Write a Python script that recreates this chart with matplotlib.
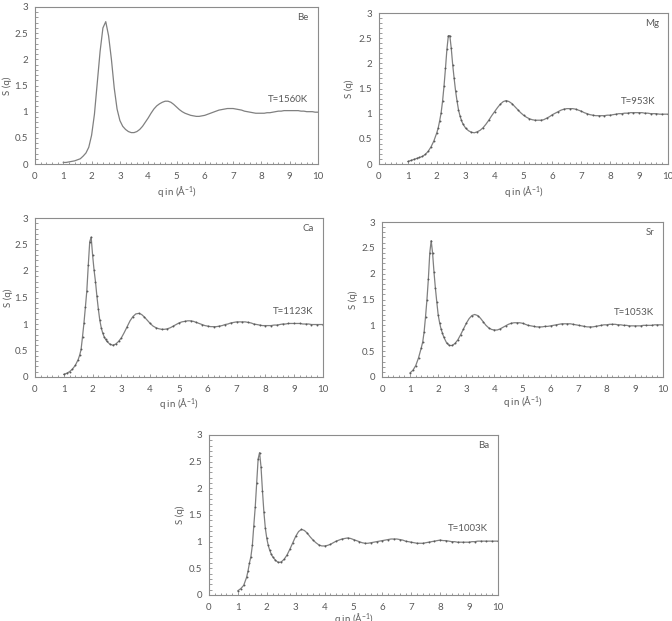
import matplotlib
matplotlib.use('Agg')
import matplotlib.pyplot as plt
from matplotlib.ticker import MultipleLocator

plt.rcParams['font.family'] = ['Lato', 'DejaVu Sans']
plt.rcParams['mathtext.default'] = 'regular'

# S(q), q in 1/Angstrom
q_be = [1.0, 1.1, 1.2, 1.3, 1.4, 1.5, 1.6, 1.7, 1.8, 1.9, 2.0, 2.1, 2.2, 2.3, 2.4, 2.5, 2.6, 2.7, 2.8, 2.9,
        3.0, 3.1, 3.2, 3.3, 3.4, 3.5, 3.6, 3.7, 3.8, 3.9, 4.0, 4.1, 4.2, 4.3, 4.4, 4.5, 4.6, 4.7, 4.8, 4.9,
        5.0, 5.1, 5.2, 5.3, 5.4, 5.5, 5.6, 5.7, 5.8, 5.9, 6.0, 6.1, 6.2, 6.3, 6.4, 6.5, 6.6, 6.7, 6.8, 6.9,
        7.0, 7.1, 7.2, 7.3, 7.4, 7.5, 7.6, 7.7, 7.8, 7.9, 8.0, 8.1, 8.2, 8.3, 8.4, 8.5, 8.6, 8.7, 8.8, 8.9,
        9.0, 9.1, 9.2, 9.3, 9.4, 9.5, 9.6, 9.7, 9.8, 9.9, 10.0]
s_be = [0.03, 0.03, 0.04, 0.05, 0.06, 0.08, 0.10, 0.15, 0.21, 0.32, 0.55, 0.95, 1.55, 2.15, 2.60, 2.72, 2.45, 2.00, 1.45, 1.05,
        0.83, 0.72, 0.66, 0.62, 0.60, 0.60, 0.62, 0.66, 0.72, 0.80, 0.88, 0.97, 1.05, 1.11, 1.15, 1.18, 1.20, 1.20, 1.18, 1.14,
        1.09, 1.04, 1.00, 0.97, 0.95, 0.93, 0.92, 0.91, 0.91, 0.92, 0.93, 0.95, 0.97, 0.99, 1.01, 1.03, 1.04, 1.05, 1.06, 1.06,
        1.06, 1.05, 1.04, 1.03, 1.01, 1.00, 0.99, 0.98, 0.97, 0.97, 0.97, 0.97, 0.98, 0.98, 0.99, 1.00, 1.01, 1.01, 1.02, 1.02,
        1.02, 1.02, 1.02, 1.02, 1.01, 1.01, 1.00, 1.00, 1.00, 0.99, 0.99]

q_mg = [1.0, 1.1, 1.2, 1.3, 1.4, 1.5, 1.6, 1.7, 1.8, 1.9,
        2.0, 2.05, 2.1, 2.15, 2.2, 2.25, 2.3, 2.35, 2.4, 2.45, 2.5, 2.55, 2.6, 2.65, 2.7, 2.75, 2.8, 2.85, 2.9,
        3.0, 3.1, 3.2, 3.3, 3.4, 3.5, 3.6, 3.7, 3.8, 3.9, 4.0, 4.1, 4.2, 4.3, 4.4, 4.5, 4.6, 4.7, 4.8, 4.9,
        5.0, 5.1, 5.2, 5.3, 5.4, 5.5, 5.6, 5.7, 5.8, 5.9, 6.0, 6.1, 6.2, 6.3, 6.4, 6.5, 6.6, 6.7, 6.8, 6.9,
        7.0, 7.1, 7.2, 7.3, 7.4, 7.5, 7.6, 7.7, 7.8, 7.9, 8.0, 8.1, 8.2, 8.3, 8.4, 8.5, 8.6, 8.7, 8.8, 8.9,
        9.0, 9.1, 9.2, 9.3, 9.4, 9.5, 9.6, 9.7, 9.8, 9.9, 10.0]
s_mg = [0.05, 0.07, 0.09, 0.11, 0.13, 0.15, 0.19, 0.25, 0.34, 0.46,
        0.62, 0.72, 0.86, 1.02, 1.25, 1.55, 1.90, 2.28, 2.55, 2.55, 2.30, 1.97, 1.70, 1.45, 1.25, 1.08, 0.96, 0.87, 0.80,
        0.71, 0.66, 0.63, 0.62, 0.64, 0.67, 0.72, 0.79, 0.87, 0.96, 1.04, 1.12, 1.19, 1.24, 1.26, 1.24, 1.20, 1.14, 1.08, 1.02,
        0.97, 0.93, 0.90, 0.88, 0.87, 0.87, 0.87, 0.88, 0.91, 0.94, 0.98, 1.01, 1.04, 1.07, 1.09, 1.10, 1.10, 1.10, 1.09, 1.07,
        1.05, 1.02, 1.00, 0.98, 0.97, 0.96, 0.96, 0.96, 0.96, 0.97, 0.97, 0.98, 0.99, 1.00, 1.00, 1.01, 1.01, 1.02, 1.02, 1.02,
        1.02, 1.02, 1.01, 1.01, 1.00, 1.00, 1.00, 0.99, 0.99, 0.99, 0.99]

q_ca = [1.0, 1.1, 1.2, 1.3, 1.4,
        1.5, 1.55, 1.6, 1.65, 1.7, 1.75, 1.8, 1.85, 1.9, 1.95, 2.0, 2.05, 2.1, 2.15, 2.2, 2.25, 2.3, 2.35, 2.4, 2.45, 2.5,
        2.6, 2.7, 2.8, 2.9, 3.0, 3.1, 3.2, 3.3, 3.4, 3.5, 3.6, 3.7, 3.8, 3.9, 4.0, 4.1, 4.2, 4.3, 4.4, 4.5, 4.6, 4.7, 4.8, 4.9,
        5.0, 5.1, 5.2, 5.3, 5.4, 5.5, 5.6, 5.7, 5.8, 5.9, 6.0, 6.1, 6.2, 6.3, 6.4, 6.5, 6.6, 6.7, 6.8, 6.9,
        7.0, 7.1, 7.2, 7.3, 7.4, 7.5, 7.6, 7.7, 7.8, 7.9, 8.0, 8.1, 8.2, 8.3, 8.4, 8.5, 8.6, 8.7, 8.8, 8.9,
        9.0, 9.1, 9.2, 9.3, 9.4, 9.5, 9.6, 9.7, 9.8, 9.9, 10.0]
s_ca = [0.05, 0.07, 0.10, 0.15, 0.22,
        0.33, 0.41, 0.52, 0.76, 1.02, 1.32, 1.63, 2.11, 2.55, 2.64, 2.30, 2.02, 1.80, 1.52, 1.28, 1.07, 0.93, 0.83, 0.76, 0.71, 0.67,
        0.62, 0.60, 0.62, 0.67, 0.74, 0.84, 0.95, 1.06, 1.14, 1.19, 1.20, 1.18, 1.13, 1.07, 1.01, 0.96, 0.93, 0.91, 0.90, 0.90, 0.91, 0.93, 0.96, 0.99,
        1.02, 1.04, 1.05, 1.06, 1.06, 1.05, 1.03, 1.01, 0.99, 0.97, 0.96, 0.95, 0.95, 0.95, 0.96, 0.97, 0.99, 1.00, 1.02, 1.03,
        1.04, 1.04, 1.04, 1.04, 1.03, 1.02, 1.00, 0.99, 0.98, 0.97, 0.97, 0.97, 0.97, 0.98, 0.98, 0.99, 1.00, 1.00, 1.01, 1.01,
        1.01, 1.01, 1.01, 1.00, 1.00, 1.00, 0.99, 0.99, 0.99, 0.99, 0.99]

q_sr = [1.0, 1.1, 1.2, 1.3, 1.4,
        1.45, 1.5, 1.55, 1.6, 1.65, 1.7, 1.75, 1.8, 1.85, 1.9, 1.95, 2.0, 2.05, 2.1, 2.15, 2.2,
        2.3, 2.4, 2.5, 2.6, 2.7, 2.8, 2.9, 3.0, 3.1, 3.2, 3.3, 3.4, 3.5, 3.6, 3.7, 3.8, 3.9, 4.0, 4.1, 4.2, 4.3, 4.4, 4.5, 4.6, 4.7, 4.8, 4.9,
        5.0, 5.1, 5.2, 5.3, 5.4, 5.5, 5.6, 5.7, 5.8, 5.9, 6.0, 6.1, 6.2, 6.3, 6.4, 6.5, 6.6, 6.7, 6.8, 6.9,
        7.0, 7.1, 7.2, 7.3, 7.4, 7.5, 7.6, 7.7, 7.8, 7.9, 8.0, 8.1, 8.2, 8.3, 8.4, 8.5, 8.6, 8.7, 8.8, 8.9,
        9.0, 9.1, 9.2, 9.3, 9.4, 9.5, 9.6, 9.7, 9.8, 9.9, 10.0]
s_sr = [0.08, 0.13, 0.22, 0.37, 0.57,
        0.68, 0.88, 1.17, 1.50, 1.90, 2.40, 2.64, 2.40, 2.03, 1.72, 1.45, 1.20, 1.05, 0.93, 0.85, 0.77,
        0.66, 0.61, 0.61, 0.65, 0.72, 0.82, 0.93, 1.04, 1.13, 1.19, 1.21, 1.19, 1.14, 1.07, 1.00, 0.95, 0.92, 0.91, 0.91, 0.93, 0.96, 0.99, 1.02, 1.04, 1.05, 1.05, 1.05,
        1.04, 1.02, 1.00, 0.99, 0.98, 0.97, 0.97, 0.97, 0.98, 0.98, 0.99, 1.00, 1.01, 1.02, 1.03, 1.03, 1.03, 1.03, 1.02, 1.01,
        1.00, 0.99, 0.98, 0.97, 0.97, 0.97, 0.98, 0.99, 1.00, 1.01, 1.01, 1.02, 1.02, 1.02, 1.01, 1.01, 1.00, 1.00, 0.99, 0.99,
        0.99, 0.99, 0.99, 1.00, 1.00, 1.00, 1.00, 1.01, 1.01, 1.01, 1.01]

q_ba = [1.0, 1.1, 1.2, 1.3,
        1.35, 1.4, 1.45, 1.5, 1.55, 1.6, 1.65, 1.7, 1.75, 1.8, 1.85, 1.9, 1.95, 2.0, 2.05, 2.1, 2.15, 2.2,
        2.3, 2.4, 2.5, 2.6, 2.7, 2.8, 2.9, 3.0, 3.1, 3.2, 3.3, 3.4, 3.5, 3.6, 3.7, 3.8, 3.9, 4.0, 4.1, 4.2, 4.3, 4.4, 4.5, 4.6, 4.7, 4.8, 4.9,
        5.0, 5.1, 5.2, 5.3, 5.4, 5.5, 5.6, 5.7, 5.8, 5.9, 6.0, 6.1, 6.2, 6.3, 6.4, 6.5, 6.6, 6.7, 6.8, 6.9,
        7.0, 7.1, 7.2, 7.3, 7.4, 7.5, 7.6, 7.7, 7.8, 7.9, 8.0, 8.1, 8.2, 8.3, 8.4, 8.5, 8.6, 8.7, 8.8, 8.9,
        9.0, 9.1, 9.2, 9.3, 9.4, 9.5, 9.6, 9.7, 9.8, 9.9, 10.0]
s_ba = [0.08, 0.12, 0.18, 0.33,
        0.45, 0.60, 0.72, 0.93, 1.30, 1.65, 2.10, 2.55, 2.67, 2.40, 1.95, 1.55, 1.25, 1.06, 0.93, 0.84, 0.77, 0.72,
        0.65, 0.61, 0.62, 0.67, 0.75, 0.86, 0.98, 1.10, 1.19, 1.23, 1.21, 1.16, 1.09, 1.03, 0.98, 0.94, 0.92, 0.92, 0.93, 0.95, 0.98, 1.01, 1.03, 1.05, 1.06, 1.07, 1.06,
        1.04, 1.02, 1.00, 0.98, 0.97, 0.97, 0.98, 0.99, 1.00, 1.01, 1.02, 1.03, 1.04, 1.05, 1.05, 1.05, 1.04, 1.03, 1.01, 1.00,
        0.99, 0.98, 0.97, 0.97, 0.97, 0.98, 0.99, 1.00, 1.01, 1.02, 1.03, 1.02, 1.02, 1.01, 1.00, 1.00, 0.99, 0.99, 0.99, 0.99,
        0.99, 1.00, 1.00, 1.01, 1.01, 1.01, 1.01, 1.01, 1.01, 1.01, 1.01]

panels = [
    # element, temperature, q, S, markers?, axes box in px (left, top, right, bottom),
    # ylabel / xlabel offsets in px, right end of the temperature text in q
    ('Be', 'T=1560K', q_be, s_be, False, (35, 7, 318, 164), 24, 28, 9.65),
    ('Mg', 'T=953K', q_mg, s_mg, True, (379, 13, 668, 164), 26, 28, 9.55),
    ('Ca', 'T=1123K', q_ca, s_ca, True, (35, 218, 323, 377), 23, 27, 9.65),
    ('Sr', 'T=1053K', q_sr, s_sr, True, (382, 222, 663, 377), 25, 25, 9.68),
    ('Ba', 'T=1003K', q_ba, s_ba, True, (209, 435, 498, 595), 25, 24, 9.65),
]

W, H = 672, 621
fig = plt.figure(figsize=(W / 100, H / 100), dpi=100)

frame_col = '#8c8c8c'
text_col = '#595959'
fs = 7

for elem, temp, q, s, dots, (l, t, r, b), yoff, xoff, tx in panels:
    w, h = r - l, b - t
    ax = fig.add_axes([l / W, 1 - b / H, w / W, h / H])
    ax.plot(q, s, color='#808080', lw=0.9)
    if dots:
        # fine grid near the main peak, every other point further out
        idx = [i for i, v in enumerate(q) if v < 3 or round(v * 10) % 2 == 0]
        ax.plot([q[i] for i in idx], [s[i] for i in idx], ls='none', marker='o',
                ms=1.4, color='#5a5a5a', mew=0)

    ax.set_xlim(0, 10)
    ax.set_ylim(0, 3)
    ax.xaxis.set_major_locator(MultipleLocator(1))
    ax.xaxis.set_minor_locator(MultipleLocator(0.2))
    ax.yaxis.set_minor_locator(MultipleLocator(0.1))
    ax.set_yticks([0, 0.5, 1, 1.5, 2, 2.5, 3])
    ax.set_yticklabels(['0', '0.5', '1', '1.5', '2', '2.5', '3'])

    ax.tick_params(which='both', direction='in', color=frame_col, width=0.6,
                   labelsize=fs, labelcolor=text_col)
    ax.tick_params(which='major', length=2.5)
    ax.tick_params(which='minor', length=1.8)
    ax.tick_params(axis='x', pad=6)
    ax.tick_params(axis='y', pad=5)
    for sp in ax.spines.values():
        sp.set_color(frame_col)
        sp.set_linewidth(0.8)

    ax.set_xlabel('q in (Å$^{-1}$)', fontsize=fs, color=text_col, va='center')
    ax.xaxis.set_label_coords(0.5, -xoff / h)
    ax.set_ylabel('S (q)', fontsize=fs, color=text_col, va='center')
    ax.yaxis.set_label_coords(-(yoff + 4) / w, 0.5)

    ax.text(9.68, 2.8, elem, ha='right', va='center', fontsize=fs, color=text_col)
    ax.text(tx, 1.24, temp, ha='right', va='center', fontsize=fs, color=text_col)

fig.savefig('out.png', dpi=100)
